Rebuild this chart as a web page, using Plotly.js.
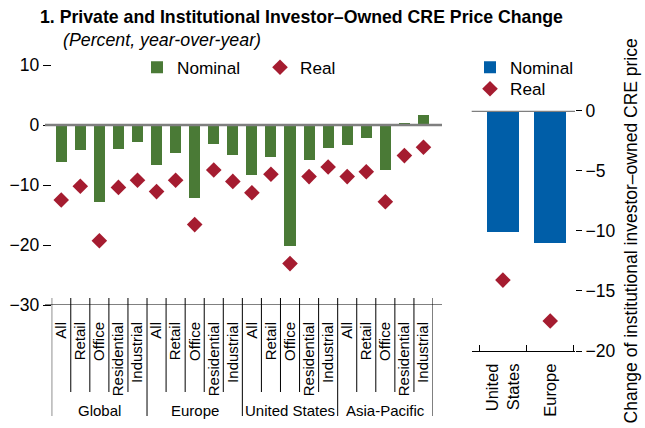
<!DOCTYPE html>
<html>
<head>
<meta charset="utf-8">
<script src="https://cdn.plot.ly/plotly-3.0.1.min.js"></script>
<style>html,body{margin:0;padding:0;background:#fff;}#chart{width:645px;height:428px;}</style>
</head>
<body>
<div id="chart"></div>
<script>
// ---- Data (left panel) ----
var regions = ['Global', 'Europe', 'United States', 'Asia-Pacific'];
var sectors = ['All', 'Retail', 'Office', 'Residential', 'Industrial'];
var nominalLeft = [-6.1, -4.1, -12.9, -4.0, -2.8,
                   -6.6, -4.7, -12.2, -3.1, -5.0,
                   -8.3, -5.3, -20.2, -5.8, -3.9,
                   -3.3, -2.2, -7.5, 0.3, 1.7];
var realLeft = [-12.5, -10.2, -19.3, -10.4, -9.2,
                -11.1, -9.2, -16.6, -7.5, -9.4,
                -11.3, -8.2, -23.1, -8.6, -7.0,
                -8.6, -7.8, -12.8, -5.1, -3.7];
// ---- Data (right panel) ----
var rightCats = ['United<br>States', 'Europe'];
var nominalRight = [-10.1, -11.0];
var realRight = [-14.1, -17.5];

var FONT = "'Liberation Sans', Arial, Helvetica, sans-serif";
var GREEN = '#4a7a36', RED = '#a51c30', BLUE = '#005ea8', GRAY = '#7f7f7f';
var W = 645, H = 428;
function px(x) { return x / W; }
function py(y) { return 1 - y / H; }

var idx = [], tickText = [];
for (var r = 0; r < regions.length; r++) {
  for (var s = 0; s < sectors.length; s++) {
    idx.push(r * sectors.length + s);
    tickText.push(sectors[s]);
  }
}

var traces = [
  {type: 'bar', x: idx, y: nominalLeft, name: 'Nominal', xaxis: 'x', yaxis: 'y',
   marker: {color: GREEN, line: {width: 0}}, width: 0.58, legend: 'legend', hoverinfo: 'skip'},
  {type: 'scatter', mode: 'markers', x: idx, y: realLeft, name: 'Real', xaxis: 'x', yaxis: 'y',
   marker: {symbol: 'diamond', color: RED, size: 12}, legend: 'legend', hoverinfo: 'skip'},
  {type: 'bar', x: rightCats, y: nominalRight, name: 'Nominal', xaxis: 'x2', yaxis: 'y3',
   marker: {color: BLUE, line: {width: 0}}, width: 0.68, legend: 'legend2', hoverinfo: 'skip'},
  {type: 'scatter', mode: 'markers', x: rightCats, y: realRight, name: 'Real', xaxis: 'x2', yaxis: 'y3',
   marker: {symbol: 'diamond', color: RED, size: 12}, legend: 'legend3', hoverinfo: 'skip'}
];

var shapes = [];
// zero line & bottom axis line (left panel)
shapes.push({type: 'line', xref: 'paper', yref: 'y', x0: px(45), x1: px(442), y0: 0, y1: 0,
             line: {color: GRAY, width: 2.5}});
shapes.push({type: 'line', xref: 'paper', yref: 'y', x0: px(45), x1: px(442), y0: -30, y1: -30,
             line: {color: '#000', width: 1}});
// category dividers
for (var b = 0; b <= idx.length; b++) {
  var major = (b % sectors.length === 0);
  shapes.push({type: 'line', xref: 'x', yref: 'paper', x0: b - 0.5, x1: b - 0.5,
               y0: py(298), y1: major ? py(416) : py(392), line: {color: '#000', width: 1}});
}
// zero line right panel
shapes.push({type: 'line', xref: 'x2 domain', yref: 'y3', x0: 0, x1: 1, y0: 0, y1: 0,
             line: {color: GRAY, width: 2.5}});

var annotations = [
  {text: '<i>(Percent, year-over-year)</i>', xref: 'paper', yref: 'paper', x: px(61), y: py(40),
   xanchor: 'left', yanchor: 'middle', showarrow: false, font: {family: FONT, size: 17.8, color: '#000'}}
];
for (var g = 0; g < regions.length; g++) {
  annotations.push({text: regions[g], xref: 'x', yref: 'paper', x: g * sectors.length + (sectors.length - 1) / 2,
                    y: py(410), xanchor: 'center', yanchor: 'middle', showarrow: false,
                    font: {family: FONT, size: 15, color: '#000'}});
}

var legendCommon = {xanchor: 'left', yanchor: 'top', bgcolor: 'rgba(0,0,0,0)', borderwidth: 0,
                    font: {family: FONT, size: 17.2, color: '#000'}};

var layout = {
  width: W, height: H,
  margin: {l: 0, r: 0, t: 0, b: 0},
  paper_bgcolor: '#fff', plot_bgcolor: 'rgba(0,0,0,0)',
  font: {family: FONT, size: 17, color: '#000'},
  title: {text: '<b>1. Private and Institutional Investor\u2013Owned CRE Price Change</b>',
          x: px(40), xanchor: 'left', xref: 'paper', y: py(17), yanchor: 'middle', yref: 'paper',
          font: {family: FONT, size: 17.7, color: '#000'}},
  showlegend: true,
  bargap: 0,
  xaxis: {domain: [px(51.7), px(433)], range: [-0.5, idx.length - 0.5], anchor: 'y',
          tickmode: 'array', tickvals: idx, ticktext: tickText, tickangle: -90,
          ticks: '', showline: false, showgrid: false, zeroline: false,
          tickfont: {family: FONT, size: 15}, ticklabelstandoff: 13},
  yaxis: {domain: [py(305), py(65)], range: [-30, 10], anchor: 'x', dtick: 10,
          ticks: 'outside', ticklen: 8, tickcolor: '#000', tickwidth: 1,
          showgrid: false, zeroline: false, showline: false,
          tickfont: {family: FONT, size: 17.5}},
  yaxis2: {overlaying: 'y', side: 'right', anchor: 'x', range: [-30, 10], dtick: 10,
           ticks: 'outside', ticklen: 8, tickcolor: '#000', showticklabels: false,
           showgrid: false, zeroline: false, showline: false},
  xaxis2: {domain: [px(471.7), px(575)], anchor: 'y3', type: 'category', range: [-0.66, 1.524],
           tickson: 'boundaries', ticks: 'inside', ticklen: 6, tickcolor: '#000',
           showline: true, linecolor: '#000', linewidth: 1, showgrid: false, zeroline: false,
           tickangle: -90, tickfont: {family: FONT, size: 16.5}, ticklabelstandoff: 5},
  yaxis3: {domain: [py(351), py(110.7)], range: [-20, 0], anchor: 'x2', side: 'right', dtick: 5,
           ticks: 'outside', ticklen: 6, tickcolor: '#000', showgrid: false, zeroline: false,
           showline: false, tickfont: {family: FONT, size: 17.5},
           title: {text: 'Change of institutional investor\u2013owned CRE price',
                   font: {family: FONT, size: 17.5}, standoff: 10}},
  yaxis4: {overlaying: 'y3', side: 'left', anchor: 'x2', range: [-20, 0], tickvals: [-15, -10, -5],
           ticks: 'inside', ticklen: 7, tickcolor: '#000', showticklabels: false,
           showgrid: false, zeroline: false, showline: false},
  legend: Object.assign({orientation: 'h', x: px(137), y: py(49.5),
                         entrywidth: 78, entrywidthmode: 'pixels'}, legendCommon),
  legend2: Object.assign({orientation: 'v', x: px(470), y: py(49.5)}, legendCommon),
  legend3: Object.assign({orientation: 'v', x: px(470), y: py(71)}, legendCommon),
  shapes: shapes,
  annotations: annotations
};

Plotly.newPlot('chart', traces, layout, {displayModeBar: false, staticPlot: true});
</script>
</body>
</html>
